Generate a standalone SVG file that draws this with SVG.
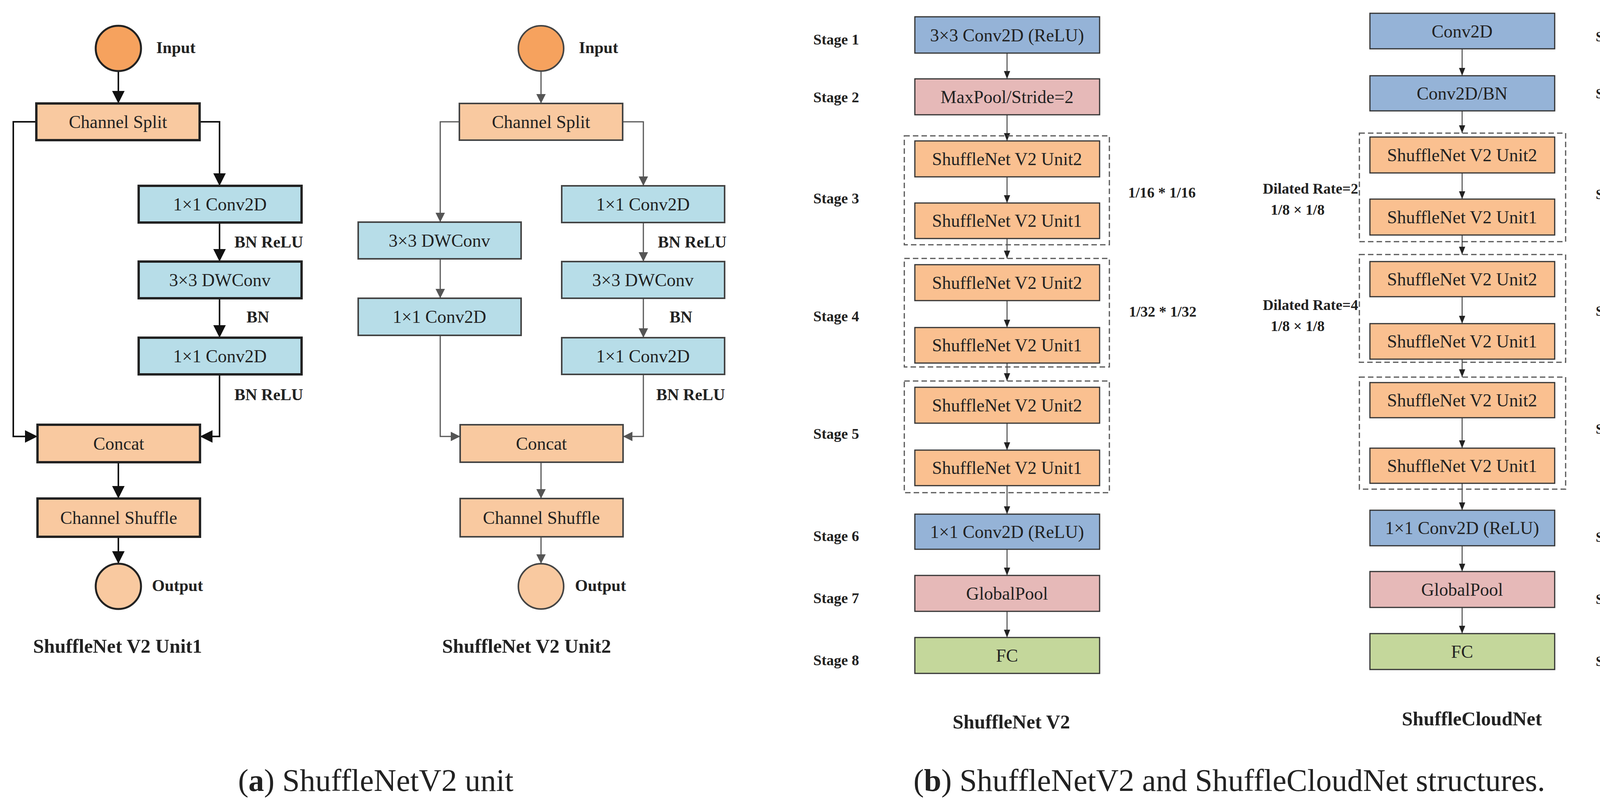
<svg xmlns="http://www.w3.org/2000/svg" width="4297" height="2080" viewBox="0 0 4297 2080">
<style>
text{font-family:"Liberation Serif","DejaVu Serif",serif;fill:#222}
.bt{font-size:46px;text-anchor:middle;dominant-baseline:central}
.lb{font-size:42px;font-weight:bold}
.st{font-size:38px;font-weight:bold}
.sr{font-size:36px;font-weight:bold}
.ti{font-size:50px;font-weight:bold;text-anchor:middle}
.cap{font-size:80px;text-anchor:middle}
.pe1{fill:#F9C9A0;stroke:#222;stroke-width:6}
.bl1{fill:#B7DDE8;stroke:#222;stroke-width:6}
.pe2{fill:#F9C9A0;stroke:#444;stroke-width:4}
.bl2{fill:#B7DDE8;stroke:#444;stroke-width:4}
.pb{fill:#FAC090;stroke:#333;stroke-width:3}
.bb{fill:#95B3D7;stroke:#333;stroke-width:3}
.kb{fill:#E6B9B8;stroke:#333;stroke-width:3}
.gb{fill:#C4D79B;stroke:#333;stroke-width:3}
.dash{fill:none;stroke:#555;stroke-width:3;stroke-dasharray:14 8}
.c1{fill:none;stroke:#111;stroke-width:4;marker-end:url(#a1)}
.c2{fill:none;stroke:#555;stroke-width:3;marker-end:url(#a2)}
.c3{fill:none;stroke:#222;stroke-width:2;marker-end:url(#a3)}
</style>
<defs>
<marker id="a1" markerWidth="8" markerHeight="8" refX="8" refY="4" orient="auto" markerUnits="strokeWidth"><path d="M0,0 L8,4 L0,8 z" fill="#111"/></marker>
<marker id="a2" markerWidth="8" markerHeight="8" refX="8" refY="4" orient="auto" markerUnits="strokeWidth"><path d="M0,0 L8,4 L0,8 z" fill="#555"/></marker>
<marker id="a3" markerWidth="10" markerHeight="8" refX="10" refY="4" orient="auto" markerUnits="strokeWidth"><path d="M0,0 L10,4 L0,8 z" fill="#222"/></marker>
</defs>
<rect width="4297" height="2080" fill="#fff"/>

<g id="connectors">
<path class="c1" d="M303,182 V265"/>
<path class="c1" d="M511,312 H562 V476"/>
<path class="c1" d="M562,570 V670"/>
<path class="c1" d="M562,764 V865"/>
<path class="c1" d="M562,959 V1118 H512"/>
<path class="c1" d="M93,312 H34 V1118 H96"/>
<path class="c1" d="M303,1184 V1277"/>
<path class="c1" d="M303,1375 V1444"/>
<path class="c2" d="M1385,182 V265"/>
<path class="c2" d="M1594,312 H1647 V476"/>
<path class="c2" d="M1647,570 V670"/>
<path class="c2" d="M1647,764 V865"/>
<path class="c2" d="M1647,959 V1118 H1595"/>
<path class="c2" d="M1176,312 H1127 V569"/>
<path class="c2" d="M1127,663 V764"/>
<path class="c2" d="M1127,859 V1118 H1178"/>
<path class="c2" d="M1385,1184 V1277"/>
<path class="c2" d="M1385,1375 V1444"/>
<path class="c3" d="M2578,136 V202"/>
<path class="c3" d="M2578,294 V361"/>
<path class="c3" d="M2578,453 V520"/>
<path class="c3" d="M2578,611 V662"/>
<path class="c3" d="M2578,770 V839"/>
<path class="c3" d="M2578,930 V976"/>
<path class="c3" d="M2578,1084 V1153"/>
<path class="c3" d="M2578,1244 V1317"/>
<path class="c3" d="M2578,1407 V1474"/>
<path class="c3" d="M2578,1566 V1633"/>
<path class="c3" d="M3743,125 V194"/>
<path class="c3" d="M3743,284 V341"/>
<path class="c3" d="M3743,443 V510"/>
<path class="c3" d="M3743,602 V652"/>
<path class="c3" d="M3743,760 V829"/>
<path class="c3" d="M3743,920 V966"/>
<path class="c3" d="M3743,1070 V1148"/>
<path class="c3" d="M3743,1238 V1307"/>
<path class="c3" d="M3743,1398 V1464"/>
<path class="c3" d="M3743,1556 V1623"/>
</g>

<g id="u1-input"><circle cx="303" cy="124" r="58" fill="#F6A25E" stroke="#222" stroke-width="5"/><text class="lb" x="400" y="136">Input</text></g>
<g id="u1-split"><rect class="pe1" x="93" y="265" width="418" height="94"/><text class="bt" x="302" y="312">Channel Split</text></g>
<g id="u1-conv1"><rect class="bl1" x="355" y="476" width="417" height="94"/><text class="bt" x="563" y="523">1×1 Conv2D</text></g>
<text class="lb" x="600" y="634">BN ReLU</text>
<g id="u1-dw"><rect class="bl1" x="355" y="670" width="417" height="94"/><text class="bt" x="563" y="717">3×3 DWConv</text></g>
<text class="lb" x="631" y="826">BN</text>
<g id="u1-conv2"><rect class="bl1" x="355" y="865" width="417" height="94"/><text class="bt" x="563" y="912">1×1 Conv2D</text></g>
<text class="lb" x="600" y="1025">BN ReLU</text>
<g id="u1-concat"><rect class="pe1" x="96" y="1088" width="416" height="96"/><text class="bt" x="304" y="1136">Concat</text></g>
<g id="u1-shuffle"><rect class="pe1" x="96" y="1277" width="416" height="98"/><text class="bt" x="304" y="1326">Channel Shuffle</text></g>
<g id="u1-output"><circle cx="303" cy="1502" r="58" fill="#F9C9A0" stroke="#222" stroke-width="5"/><text class="lb" x="389" y="1514">Output</text></g>
<text class="ti" x="301" y="1672">ShuffleNet V2 Unit1</text>

<g id="u2-input"><circle cx="1385" cy="124" r="58" fill="#F6A25E" stroke="#444" stroke-width="4"/><text class="lb" x="1482" y="136">Input</text></g>
<g id="u2-split"><rect class="pe2" x="1176" y="265" width="418" height="94"/><text class="bt" x="1385" y="312">Channel Split</text></g>
<g id="u2-dwl"><rect class="bl2" x="917" y="569" width="417" height="94"/><text class="bt" x="1125" y="616">3×3 DWConv</text></g>
<g id="u2-convl"><rect class="bl2" x="917" y="764" width="417" height="95"/><text class="bt" x="1125" y="811">1×1 Conv2D</text></g>
<g id="u2-conv1"><rect class="bl2" x="1438" y="476" width="417" height="94"/><text class="bt" x="1646" y="523">1×1 Conv2D</text></g>
<text class="lb" x="1684" y="634">BN ReLU</text>
<g id="u2-dw"><rect class="bl2" x="1438" y="670" width="417" height="94"/><text class="bt" x="1646" y="717">3×3 DWConv</text></g>
<text class="lb" x="1714" y="826">BN</text>
<g id="u2-conv2"><rect class="bl2" x="1438" y="865" width="417" height="94"/><text class="bt" x="1646" y="912">1×1 Conv2D</text></g>
<text class="lb" x="1680" y="1025">BN ReLU</text>
<g id="u2-concat"><rect class="pe2" x="1178" y="1088" width="417" height="96"/><text class="bt" x="1386" y="1136">Concat</text></g>
<g id="u2-shuffle"><rect class="pe2" x="1178" y="1277" width="417" height="98"/><text class="bt" x="1386" y="1326">Channel Shuffle</text></g>
<g id="u2-output"><circle cx="1385" cy="1502" r="58" fill="#F9C9A0" stroke="#444" stroke-width="4"/><text class="lb" x="1472" y="1514">Output</text></g>
<text class="ti" x="1348" y="1672">ShuffleNet V2 Unit2</text>

<text class="cap" x="962" y="2026">(<tspan font-weight="bold">a</tspan>) ShuffleNetV2 unit</text>

<g id="s-labels-left">
<text class="st" x="2082" y="114">Stage 1</text>
<text class="st" x="2082" y="262">Stage 2</text>
<text class="st" x="2082" y="521">Stage 3</text>
<text class="st" x="2082" y="823">Stage 4</text>
<text class="st" x="2082" y="1124">Stage 5</text>
<text class="st" x="2082" y="1386">Stage 6</text>
<text class="st" x="2082" y="1545">Stage 7</text>
<text class="st" x="2082" y="1704">Stage 8</text>
</g>
<g id="v2-s1"><rect class="bb" x="2342" y="43" width="473" height="93"/><text class="bt" x="2578" y="90">3×3 Conv2D (ReLU)</text></g>
<g id="v2-s2"><rect class="kb" x="2342" y="202" width="473" height="92"/><text class="bt" x="2578" y="248">MaxPool/Stride=2</text></g>
<g id="v2-s3"><rect class="dash" x="2315" y="348" width="525" height="279"/>
<rect class="pb" x="2342" y="361" width="473" height="92"/><text class="bt" x="2578" y="407">ShuffleNet V2 Unit2</text>
<rect class="pb" x="2342" y="520" width="473" height="91"/><text class="bt" x="2578" y="565">ShuffleNet V2 Unit1</text></g>
<g id="v2-s4"><rect class="dash" x="2315" y="662" width="525" height="278"/>
<rect class="pb" x="2342" y="678" width="473" height="92"/><text class="bt" x="2578" y="724">ShuffleNet V2 Unit2</text>
<rect class="pb" x="2342" y="839" width="473" height="91"/><text class="bt" x="2578" y="884">ShuffleNet V2 Unit1</text></g>
<g id="v2-s5"><rect class="dash" x="2315" y="976" width="525" height="286"/>
<rect class="pb" x="2342" y="992" width="473" height="92"/><text class="bt" x="2578" y="1038">ShuffleNet V2 Unit2</text>
<rect class="pb" x="2342" y="1153" width="473" height="91"/><text class="bt" x="2578" y="1198">ShuffleNet V2 Unit1</text></g>
<g id="v2-s6"><rect class="bb" x="2342" y="1317" width="473" height="90"/><text class="bt" x="2578" y="1362">1×1 Conv2D (ReLU)</text></g>
<g id="v2-s7"><rect class="kb" x="2342" y="1474" width="473" height="92"/><text class="bt" x="2578" y="1520">GlobalPool</text></g>
<g id="v2-s8"><rect class="gb" x="2342" y="1633" width="473" height="92"/><text class="bt" x="2578" y="1679">FC</text></g>
<text class="st" x="2888" y="506">1/16 * 1/16</text>
<text class="st" x="2890" y="811">1/32 * 1/32</text>
<text class="ti" x="2589" y="1866">ShuffleNet V2</text>

<g id="c-s1"><rect class="bb" x="3507" y="34" width="473" height="91"/><text class="bt" x="3743" y="80">Conv2D</text></g>
<g id="c-s2"><rect class="bb" x="3507" y="194" width="473" height="90"/><text class="bt" x="3743" y="239">Conv2D/BN</text></g>
<g id="c-s3"><rect class="dash" x="3480" y="341" width="528" height="278"/>
<rect class="pb" x="3507" y="351" width="473" height="92"/><text class="bt" x="3743" y="397">ShuffleNet V2 Unit2</text>
<rect class="pb" x="3507" y="510" width="473" height="92"/><text class="bt" x="3743" y="556">ShuffleNet V2 Unit1</text></g>
<g id="c-s4"><rect class="dash" x="3480" y="652" width="528" height="276"/>
<rect class="pb" x="3507" y="670" width="473" height="90"/><text class="bt" x="3743" y="715">ShuffleNet V2 Unit2</text>
<rect class="pb" x="3507" y="829" width="473" height="91"/><text class="bt" x="3743" y="874">ShuffleNet V2 Unit1</text></g>
<g id="c-s5"><rect class="dash" x="3480" y="966" width="528" height="287"/>
<rect class="pb" x="3507" y="980" width="473" height="90"/><text class="bt" x="3743" y="1025">ShuffleNet V2 Unit2</text>
<rect class="pb" x="3507" y="1148" width="473" height="90"/><text class="bt" x="3743" y="1193">ShuffleNet V2 Unit1</text></g>
<g id="c-s6"><rect class="bb" x="3507" y="1307" width="473" height="91"/><text class="bt" x="3743" y="1352">1×1 Conv2D (ReLU)</text></g>
<g id="c-s7"><rect class="kb" x="3507" y="1464" width="473" height="92"/><text class="bt" x="3743" y="1510">GlobalPool</text></g>
<g id="c-s8"><rect class="gb" x="3507" y="1623" width="473" height="92"/><text class="bt" x="3743" y="1669">FC</text></g>
<g id="s-labels-right">
<text class="sr" x="4085" y="106">Stage 1</text>
<text class="sr" x="4085" y="252">Stage 2</text>
<text class="sr" x="4085" y="510">Stage 3</text>
<text class="sr" x="4085" y="809">Stage 4</text>
<text class="sr" x="4085" y="1111">Stage 5</text>
<text class="sr" x="4085" y="1388">Stage 6</text>
<text class="sr" x="4085" y="1547">Stage 7</text>
<text class="sr" x="4085" y="1706">Stage 8</text>
</g>
<text class="st" x="3477" y="496" text-anchor="end">Dilated Rate=2</text>
<text class="st" x="3322" y="550" text-anchor="middle">1/8 × 1/8</text>
<text class="st" x="3477" y="794" text-anchor="end">Dilated Rate=4</text>
<text class="st" x="3322" y="848" text-anchor="middle">1/8 × 1/8</text>
<text class="ti" x="3768" y="1858">ShuffleCloudNet</text>

<text class="cap" x="3147" y="2026">(<tspan font-weight="bold">b</tspan>) ShuffleNetV2 and ShuffleCloudNet structures.</text>
</svg>
